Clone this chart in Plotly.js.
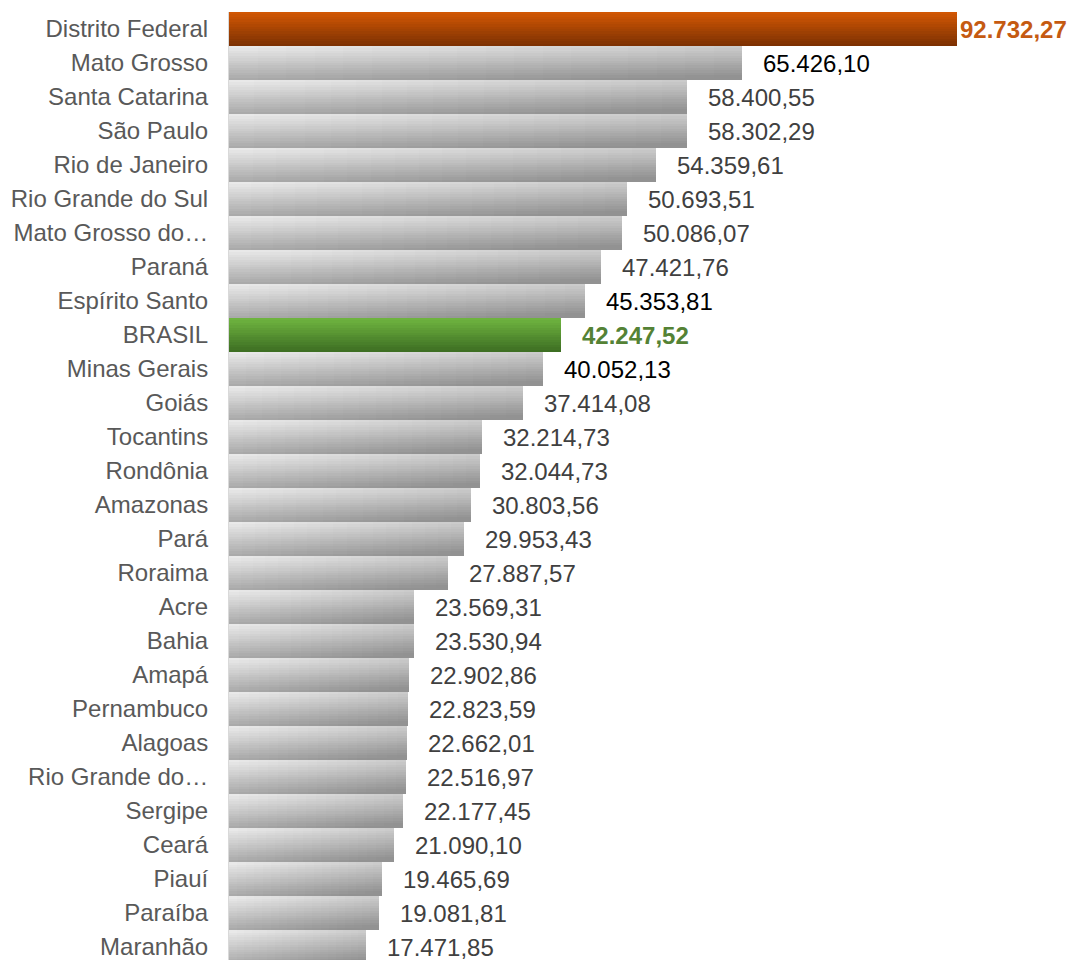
<!DOCTYPE html>
<html>
<head>
<meta charset="utf-8">
<script src="https://cdn.plot.ly/plotly-3.0.1.min.js"></script>
<style>html,body{margin:0;padding:0;overflow:hidden;background:#fff}</style>
</head>
<body>
<div id="chart" style="width:1076px;height:960px"></div>
<script>
// ---- data ----
const categories = [
  "Distrito Federal", "Mato Grosso", "Santa Catarina", "São Paulo", "Rio de Janeiro",
  "Rio Grande do Sul", "Mato Grosso do…", "Paraná", "Espírito Santo", "BRASIL",
  "Minas Gerais", "Goiás", "Tocantins", "Rondônia", "Amazonas", "Pará", "Roraima",
  "Acre", "Bahia", "Amapá", "Pernambuco", "Alagoas", "Rio Grande do…", "Sergipe",
  "Ceará", "Piauí", "Paraíba", "Maranhão"
];
const values = [
  92732.27, 65426.10, 58400.55, 58302.29, 54359.61,
  50693.51, 50086.07, 47421.76, 45353.81, 42247.52,
  40052.13, 37414.08, 32214.73, 32044.73, 30803.56, 29953.43, 27887.57,
  23569.31, 23530.94, 22902.86, 22823.59, 22662.01, 22516.97, 22177.45,
  21090.10, 19465.69, 19081.81, 17471.85
];
const highlight = {"Distrito Federal": "orange", "BRASIL": "green"};
const blackLabels = ["Mato Grosso", "Espírito Santo", "Minas Gerais"];

// ---- styles ----
const palettes = {
  gray:   {a: [236,236,236], b: [146,146,146], diag: true},
  orange: {a: [212,88,4],    b: [122,48,2],    diag: false},
  green:  {a: [112,182,64],  b: [60,108,34],   diag: false}
};
const labelColors = {orange: "#C55A11", green: "#548235"};

function fmt(v) {
  const parts = v.toFixed(2).split(".");
  const intPart = parts[0].replace(/\B(?=(\d{3})+(?!\d))/g, ".");
  return intPart + "," + parts[1];
}
function mix(p, u, v) {
  const t = p.diag ? Math.min(1, Math.max(0, 0.35 * u + 0.75 * v)) : v;
  const c = p.a.map((x, i) => Math.round(x + (p.b[i] - x) * t));
  return "rgb(" + c.join(",") + ")";
}

// gradient built from overlapping bar layers (each later layer covers the rest of the bar)
const NS = 14; // steps across bar thickness
const NL = 18; // steps along bar length
const traces = [];
for (let s = 0; s < NS; s++) {
  for (let l = 0; l < NL; l++) {
    const v = (s + 0.5) / NS;
    const u = (l + 0.5) / NL;
    traces.push({
      type: "bar",
      orientation: "h",
      y: categories,
      x: values.map(val => val * (1 - l / NL)),
      base: values.map(val => val * l / NL),
      width: 1 - s / NS,
      offset: -0.5 + s / NS,
      marker: {
        color: categories.map(c => mix(palettes[highlight[c] || "gray"], u, v)),
        line: {width: 0}
      },
      hoverinfo: "skip",
      showlegend: false
    });
  }
}

const annotations = categories.map((c, i) => {
  const h = highlight[c];
  return {
    x: values[i], y: c, xref: "x", yref: "y",
    text: fmt(values[i]),
    showarrow: false,
    xanchor: "left", yanchor: "middle",
    xshift: c === "Distrito Federal" ? 1 : 19,
    font: {
      family: "Liberation Sans, Arial, sans-serif",
      size: 24,
      color: h ? labelColors[h] : (blackLabels.includes(c) ? "#000000" : "#404040"),
      weight: h ? "bold" : "normal"
    }
  };
});

const layout = {
  width: 1076, height: 960,
  margin: {l: 229, r: 0, t: 12, b: 0, pad: 0},
  paper_bgcolor: "#fff", plot_bgcolor: "#fff",
  barmode: "overlay",
  bargap: 0,
  showlegend: false,
  xaxis: {range: [0, 107940], visible: false, fixedrange: true},
  yaxis: {
    type: "category",
    categoryorder: "array", categoryarray: categories,
    range: [27.38, -0.5],
    showline: true, linecolor: "#d9d9d9", linewidth: 1,
    ticks: "", showgrid: false, zeroline: false,
    ticklabelstandoff: 15,
    tickfont: {family: "Liberation Sans, Arial, sans-serif", size: 24, color: "#595959"},
    fixedrange: true
  },
  annotations: annotations
};

Plotly.newPlot("chart", traces, layout, {displayModeBar: false, staticPlot: true});
</script>
</body>
</html>
